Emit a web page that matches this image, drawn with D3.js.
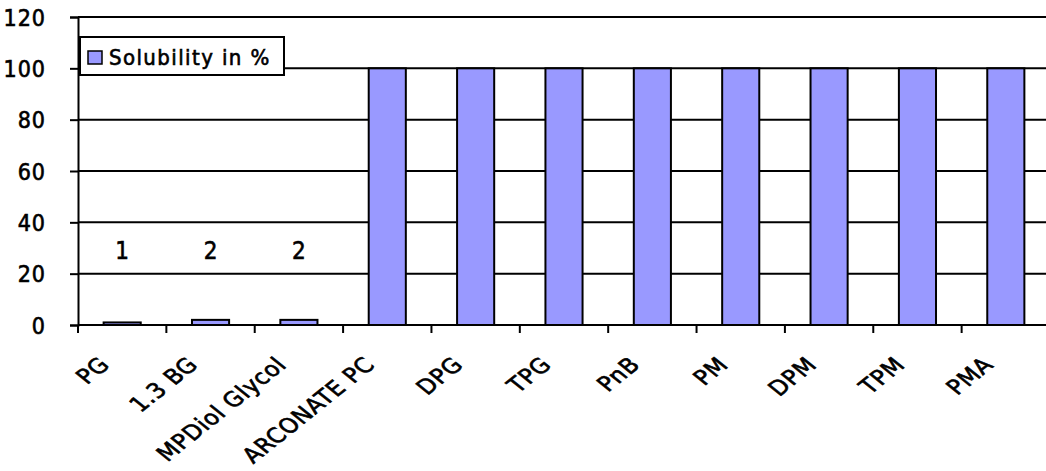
<!DOCTYPE html>
<html>
<head>
<meta charset="utf-8">
<script src="https://cdn.jsdelivr.net/npm/d3@7"></script>
<style>
  html, body { margin: 0; padding: 0; background: #fff; }
  text { font-family: "DejaVu Sans Condensed", "DejaVu Sans", sans-serif; fill: #000; stroke: #000; stroke-width: 0.6px; }
</style>
</head>
<body>
<svg id="chart" width="1046" height="471"></svg>
<script>
// data
const solvents = ["PG", "1.3 BG", "MPDiol Glycol", "ARCONATE PC", "DPG", "TPG", "PnB", "PM", "DPM", "TPM", "PMA"];
const solubility = [1, 2, 2, 100, 100, 100, 100, 100, 100, 100, 100];
const valueLabels = ["1", "2", "2"];   // only first three are labelled
const yTicks = [0, 20, 40, 60, 80, 100, 120];
const seriesName = "Solubility in %";

const svg = d3.select("#chart");
const margin = { top: 17, left: 78, bottom: 146 };
const plotRight = 1050;  // plot runs past the right edge
const height = +svg.attr("height");

const x = d3.scaleBand()
  .domain(solvents)
  .range([margin.left, plotRight])
  .paddingInner(0.58)
  .paddingOuter(0.29);

const y = d3.scaleLinear()
  .domain([0, 120])
  .range([height - margin.bottom, margin.top]);

// gridlines
svg.append("g")
  .selectAll("line")
  .data(yTicks)
  .join("line")
    .attr("x1", margin.left).attr("x2", plotRight)
    .attr("y1", d => y(d)).attr("y2", d => y(d))
    .attr("stroke", "#000").attr("stroke-width", 2);

// bars
svg.append("g")
  .selectAll("rect")
  .data(solvents)
  .join("rect")
    .attr("x", d => x(d))
    .attr("y", (d, i) => y(solubility[i]))
    .attr("width", x.bandwidth())
    .attr("height", (d, i) => y(0) - y(solubility[i]))
    .attr("fill", "#9999ff")
    .attr("stroke", "#000")
    .attr("stroke-width", 2);

// y axis
const yAxis = svg.append("g")
  .attr("transform", `translate(${margin.left},0)`)
  .call(d3.axisLeft(y).tickValues(yTicks).tickSize(8).tickPadding(24));
yAxis.select(".domain").attr("stroke-width", 2);
yAxis.selectAll(".tick line").attr("stroke-width", 2);
yAxis.selectAll(".tick text")
  .style("font-family", "DejaVu Sans Condensed")
  .style("font-size", "23px")
  .style("letter-spacing", "1px")
  .attr("dy", "0.36em");

// x axis: ticks sit at category boundaries
const boundaries = d3.range(solvents.length + 1).map(i => margin.left + i * (plotRight - margin.left) / solvents.length);
svg.append("g")
  .selectAll("line")
  .data(boundaries)
  .join("line")
    .attr("x1", d => d).attr("x2", d => d)
    .attr("y1", y(0)).attr("y2", y(0) + 8)
    .attr("stroke", "#000").attr("stroke-width", 2);

// category labels: 45° in a chart that was stretched sideways
svg.append("g")
  .selectAll("text")
  .data(solvents)
  .join("text")
    .attr("text-anchor", "end")
    .attr("transform", d => `translate(${x(d) + x.bandwidth() / 2 - 11},${y(0) + 41}) scale(1.25,1) rotate(-45)`)
    .style("font-size", "21px")
    .style("letter-spacing", "0.6px")
    .text(d => d);

// value labels
svg.append("g")
  .selectAll("text")
  .data(valueLabels)
  .join("text")
    .attr("x", (d, i) => x(solvents[i]) + x.bandwidth() / 2)
    .attr("y", y(25.7))
    .attr("text-anchor", "middle")
    .style("font-size", "24px")
    .text(d => d);

// legend
const legend = svg.append("g").attr("transform", "translate(80,37)");
legend.append("rect")
  .attr("width", 204).attr("height", 38)
  .attr("fill", "#fff").attr("stroke", "#000").attr("stroke-width", 2);
legend.append("rect")
  .attr("x", 8).attr("y", 14).attr("width", 14).attr("height", 13)
  .attr("fill", "#9999ff").attr("stroke", "#000").attr("stroke-width", 1.5);
legend.append("text")
  .attr("x", 29).attr("y", 28)
  .style("font-size", "22px")
  .style("letter-spacing", "1.4px")
  .text(seriesName);
</script>
</body>
</html>
